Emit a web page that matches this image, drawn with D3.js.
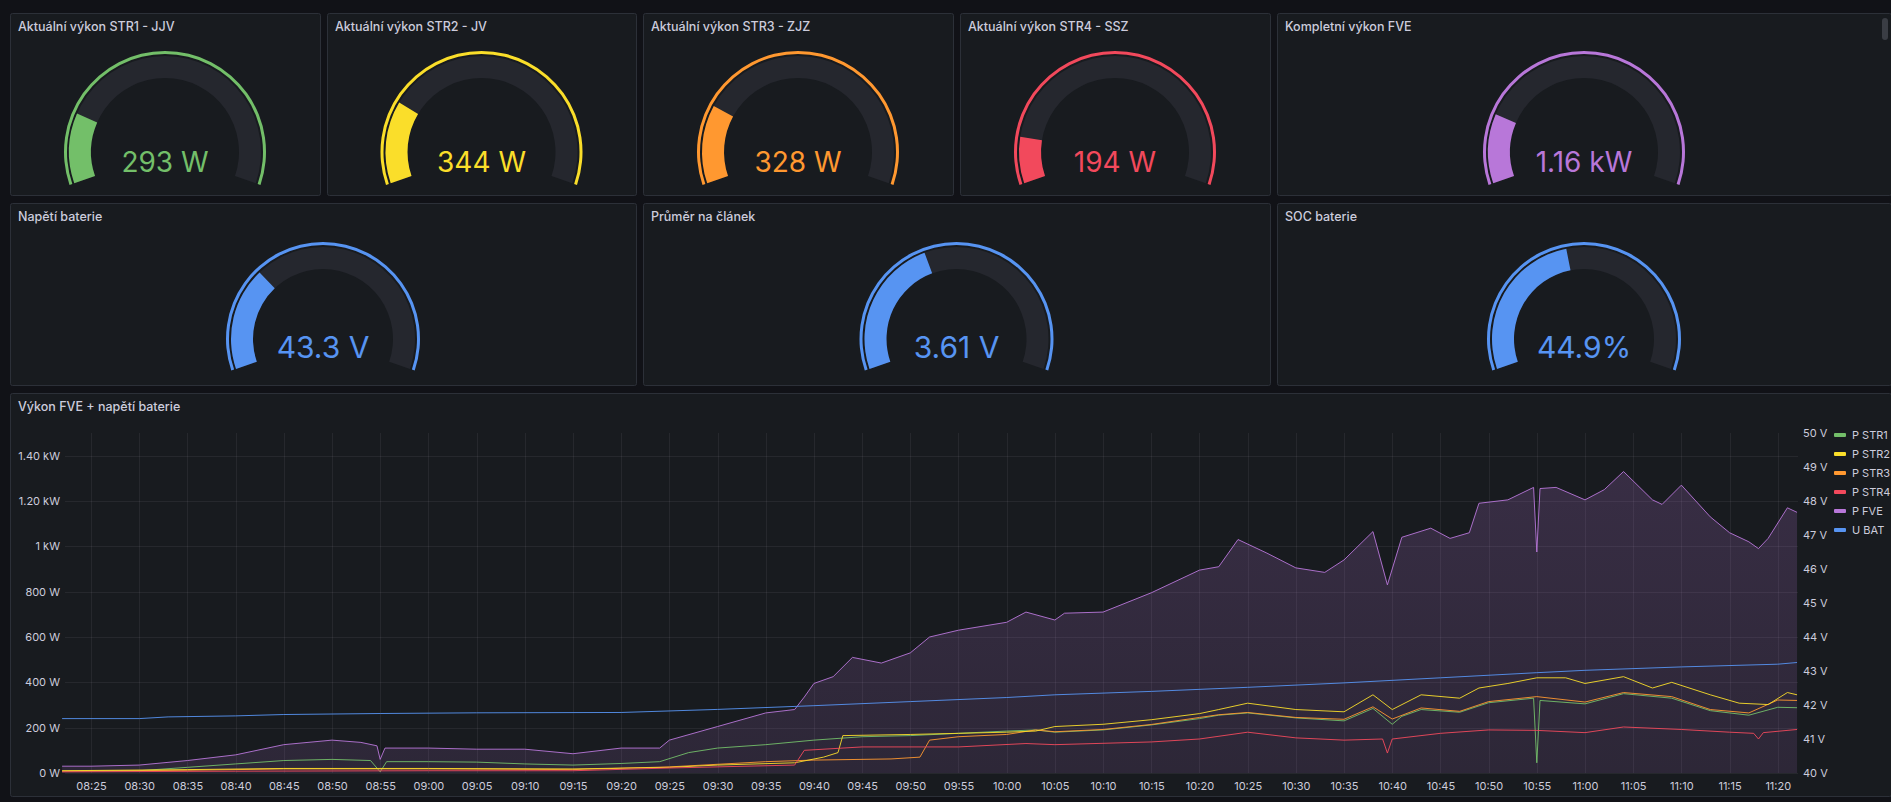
<!DOCTYPE html>
<html>
<head>
<meta charset="utf-8">
<script src="https://cdn.jsdelivr.net/npm/d3@7/dist/d3.min.js"></script>
<style>
  html, body { margin: 0; padding: 0; background: #111217; }
  svg { display: block; font-family: Inter, "Noto Sans", sans-serif; }
</style>
</head>
<body>
<svg id="dash" width="1891" height="802"></svg>
<script>
// --- Gauge data ---
const gaugeTitles = ['Aktuální výkon STR1 - JJV', 'Aktuální výkon STR2 - JV', 'Aktuální výkon STR3 - ZJZ',
  'Aktuální výkon STR4 - SSZ', 'Kompletní výkon FVE', 'Napětí baterie', 'Průměr na článek', 'SOC baterie'];
const gaugeValues = [293, 344, 328, 194, 1160, 43.3, 3.61, 44.9];
const gaugeLabels = ['293 W', '344 W', '328 W', '194 W', '1.16 kW', '43.3 V', '3.61 V', '44.9%'];
const gaugeMin = [0, 0, 0, 0, 0, 40, 3.0, 0];
const gaugeMax = [1500, 1500, 1500, 1500, 6000, 51, 4.5, 100];
const gaugeColors = ['#73BF69', '#FADE2A', '#FF9830', '#F2495C', '#B877D9', '#5794F2', '#5794F2', '#5794F2'];

// --- Time series data [time, value] ---
const pStr1 = [["08:22",8],["08:30",10],["08:35",25],["08:40",40],["08:45",55],["08:50",60],["08:54",55],["08:55",5],["08:55:40",50],["09:00",50],["09:05",48],["09:10",40],["09:15",35],["09:20",42],["09:24",50],["09:27",90],["09:30",110],["09:35",125],["09:40",145],["09:45",160],["09:50",165],["09:55",175],["10:00",185],["10:03",190],["10:05",180],["10:10",190],["10:15",212],["10:20",240],["10:22",255],["10:25",265],["10:30",243],["10:35",230],["10:38",285],["10:40",215],["10:41",250],["10:43",280],["10:47",268],["10:50",310],["10:54:40",330],["10:55",45],["10:55:20",320],["11:00",305],["11:04",350],["11:09",330],["11:13",275],["11:17",255],["11:20",290],["11:22",288]];
const pStr2 = [["08:22",10],["08:35",15],["08:45",20],["09:00",20],["09:15",18],["09:25",25],["09:30",35],["09:38",45],["09:41",70],["09:42:30",90],["09:43",165],["09:50",170],["09:55",175],["10:00",180],["10:03",185],["10:05",205],["10:10",215],["10:15",235],["10:20",262],["10:22",280],["10:25",308],["10:30",280],["10:35",270],["10:38",345],["10:40",280],["10:43",345],["10:47",330],["10:49",375],["10:52",395],["10:55",420],["10:58",420],["11:00",395],["11:04",425],["11:07",375],["11:09",400],["11:13",345],["11:16",308],["11:19",302],["11:21",355],["11:22",345]];
const pStr3 = [["08:22",8],["08:35",12],["08:45",18],["09:00",18],["09:15",15],["09:25",27],["09:35",50],["09:40",57],["09:48",62],["09:51",70],["09:52",145],["09:55",160],["10:00",170],["10:03",190],["10:05",182],["10:10",192],["10:15",214],["10:20",245],["10:22",257],["10:25",267],["10:30",245],["10:35",237],["10:38",292],["10:40",238],["10:43",287],["10:47",272],["10:50",315],["10:55",337],["11:00",313],["11:04",355],["11:09",337],["11:13",280],["11:17",265],["11:20",322],["11:22",320]];
const pStr4 = [["08:22",5],["08:40",8],["09:00",10],["09:15",10],["09:25",22],["09:38",35],["09:39",100],["09:45",115],["09:55",115],["10:02",130],["10:05",125],["10:15",137],["10:20",150],["10:25",180],["10:30",155],["10:35",145],["10:39",150],["10:39:30",88],["10:40",150],["10:45",175],["10:50",190],["10:55",188],["11:00",178],["11:04",203],["11:10",192],["11:15",180],["11:17:30",175],["11:18",150],["11:18:30",178],["11:22",192]];
const pFve = [["08:22",30],["08:25",30],["08:30",35],["08:35",55],["08:40",80],["08:45",125],["08:50",145],["08:53",135],["08:54:40",120],["08:55",60],["08:55:30",110],["09:00",110],["09:05",105],["09:10",105],["09:15",85],["09:20",110],["09:24",110],["09:25",145],["09:30",205],["09:35",265],["09:38",280],["09:39",335],["09:40",395],["09:42",425],["09:44",510],["09:47",485],["09:50",530],["09:52",600],["09:55",630],["10:00",665],["10:02",710],["10:05",675],["10:06",705],["10:10",710],["10:15",795],["10:20",895],["10:22",910],["10:24",1030],["10:27",970],["10:30",905],["10:33",885],["10:35",940],["10:38",1065],["10:39:30",830],["10:41",1040],["10:44",1080],["10:46",1035],["10:48",1060],["10:49",1190],["10:52",1205],["10:54:40",1260],["10:55",975],["10:55:20",1255],["10:57",1260],["11:00",1205],["11:02",1250],["11:04",1330],["11:07",1205],["11:08",1185],["11:10",1270],["11:13",1130],["11:15",1060],["11:17",1020],["11:18",990],["11:19",1035],["11:21",1170],["11:22",1150]];
const uBat = [["08:22",41.6],["08:30",41.6],["08:33",41.65],["08:40",41.68],["08:45",41.72],["08:55",41.75],["09:05",41.77],["09:20",41.78],["09:30",41.87],["09:40",41.98],["09:50",42.1],["10:00",42.22],["10:05",42.3],["10:15",42.4],["10:25",42.52],["10:35",42.65],["10:45",42.8],["10:55",42.95],["11:00",43.02],["11:10",43.12],["11:20",43.2],["11:22",43.25]];

const powerTicks = [0, 200, 400, 600, 800, 1000, 1200, 1400];
const powerTickLabels = ['0 W', '200 W', '400 W', '600 W', '800 W', '1 kW', '1.20 kW', '1.40 kW'];
const voltTicks = [40, 41, 42, 43, 44, 45, 46, 47, 48, 49, 50];

const series = [
  { name: 'P STR1', data: pStr1, color: '#73BF69', axis: 'p' },
  { name: 'P STR2', data: pStr2, color: '#FADE2A', axis: 'p' },
  { name: 'P STR3', data: pStr3, color: '#FF9830', axis: 'p' },
  { name: 'P STR4', data: pStr4, color: '#F2495C', axis: 'p' },
  { name: 'P FVE', data: pFve, color: '#B877D9', axis: 'p', fill: true },
  { name: 'U BAT', data: uBat, color: '#5794F2', axis: 'v' }
];

const svg = d3.select('#dash');
const textCol = '#ccccdc';

// --- Panels ---
function panel(x, y, w, h, title) {
  svg.append('rect').attr('x', x + 0.5).attr('y', y + 0.5).attr('width', w).attr('height', h)
    .attr('rx', 2).attr('fill', '#181b1f').attr('stroke', '#2c3038');
  svg.append('text').attr('x', x + 8).attr('y', y + 18).attr('fill', textCol)
    .attr('font-size', 12.5).attr('font-weight', 500).text(title);
}

const gaugePanels = [
  [10, 13, 310, 182], [327, 13, 309, 182], [643, 13, 310, 182], [960, 13, 310, 182], [1277, 13, 614, 182],
  [10, 203, 626, 182], [643, 203, 627, 182], [1277, 203, 614, 182]
];

const deg = Math.PI / 180;
const a0 = -109 * deg, a1 = 109 * deg;

gaugePanels.forEach((p, i) => {
  panel(p[0], p[1], p[2], p[3], gaugeTitles[i]);
  const row2 = i >= 5;
  const R = row2 ? 97 : 101;
  const cx = p[0] + p[2] / 2;
  const cy = p[1] + (row2 ? 136 : 139);
  const g = svg.append('g').attr('transform', `translate(${cx},${cy})`);
  const scale = d3.scaleLinear().domain([gaugeMin[i], gaugeMax[i]]).range([a0, a1]).clamp(true);
  const inner = R - 27, outer = R - 5;
  g.append('path').attr('fill', '#25272e')
    .attr('d', d3.arc()({ innerRadius: inner, outerRadius: outer, startAngle: a0, endAngle: a1 }));
  g.append('path').attr('fill', gaugeColors[i])
    .attr('d', d3.arc()({ innerRadius: inner, outerRadius: outer, startAngle: a0, endAngle: scale(gaugeValues[i]) }));
  g.append('path').attr('fill', gaugeColors[i])
    .attr('d', d3.arc()({ innerRadius: R - 3, outerRadius: R, startAngle: a0, endAngle: a1 }));
  g.append('text').attr('x', 0).attr('y', row2 ? 19 : 20).attr('text-anchor', 'middle')
    .attr('fill', gaugeColors[i]).attr('font-size', row2 ? 30 : 28).text(gaugeLabels[i]);
});

// scrollbar hint
svg.append('rect').attr('x', 1882).attr('y', 18).attr('width', 6).attr('height', 22).attr('rx', 3).attr('fill', '#3a3d44');

// --- Time series panel ---
panel(10, 393, 1881, 403, 'Výkon FVE + napětí baterie');

const parse = d3.timeParse('%H:%M:%S');
const toDate = t => parse(t.length === 5 ? t + ':00' : t);

const x = d3.scaleTime().domain([toDate('08:22:18'), toDate('11:22:06')]).range([65, 1798]);
const yP = d3.scaleLinear().domain([0, 1500]).range([773, 433]);
const yV = d3.scaleLinear().domain([40, 50]).range([773, 433]);

const grid = svg.append('g').attr('stroke', 'rgba(204,204,220,0.08)').attr('stroke-width', 1);
powerTicks.forEach(v => {
  grid.append('line').attr('x1', 65).attr('x2', 1798).attr('y1', Math.round(yP(v)) + 0.5).attr('y2', Math.round(yP(v)) + 0.5);
});
const xTicks = x.ticks(d3.timeMinute.every(5));
xTicks.forEach(t => {
  grid.append('line').attr('x1', Math.round(x(t)) + 0.5).attr('x2', Math.round(x(t)) + 0.5).attr('y1', 433).attr('y2', 773);
});

const xAxis = svg.append('g').attr('transform', 'translate(0,773)')
  .call(d3.axisBottom(x).ticks(d3.timeMinute.every(5)).tickFormat(d3.timeFormat('%H:%M')).tickSize(0).tickPadding(9));
const yAxisL = svg.append('g').attr('transform', 'translate(60,0)')
  .call(d3.axisLeft(yP).tickValues(powerTicks).tickFormat((d, i) => powerTickLabels[i]).tickSize(0).tickPadding(0));
const yAxisR = svg.append('g').attr('transform', 'translate(1803,0)')
  .call(d3.axisRight(yV).tickValues(voltTicks).tickFormat(d => d + ' V').tickSize(0).tickPadding(0));
[xAxis, yAxisL, yAxisR].forEach(a => {
  a.select('.domain').remove();
  a.selectAll('text').attr('fill', textCol).attr('font-size', 11).attr('font-family', 'Inter, sans-serif');
});

// gradient for FVE fill
const defs = svg.append('defs');
const grad = defs.append('linearGradient').attr('id', 'fveFill').attr('x1', 0).attr('x2', 0).attr('y1', 0).attr('y2', 1);
grad.append('stop').attr('offset', '0%').attr('stop-color', '#B877D9').attr('stop-opacity', 0.2);
grad.append('stop').attr('offset', '100%').attr('stop-color', '#B877D9').attr('stop-opacity', 0.13);

const plot = svg.append('g');
series.slice().reverse().forEach(s => {
  const yS = s.axis === 'v' ? yV : yP;
  if (s.fill) {
    plot.append('path').datum(s.data).attr('fill', 'url(#fveFill)')
      .attr('d', d3.area().x(d => x(toDate(d[0]))).y0(yP(0)).y1(d => yS(d[1])));
  }
});
// draw lines in legend order reversed so STR lines sit on top of fill
[4, 5, 0, 2, 1, 3].forEach(k => {
  const s = series[k];
  const yS = s.axis === 'v' ? yV : yP;
  plot.append('path').datum(s.data).attr('fill', 'none').attr('stroke', s.color)
    .attr('stroke-width', 1).attr('stroke-linejoin', 'round').attr('opacity', 0.9)
    .attr('d', d3.line().x(d => x(toDate(d[0]))).y(d => yS(d[1])));
});

// legend
const legend = svg.append('g').attr('transform', 'translate(1834,435)');
series.forEach((s, i) => {
  const row = legend.append('g').attr('transform', `translate(0,${i * 19})`);
  row.append('rect').attr('x', 0).attr('y', -2).attr('width', 12).attr('height', 4).attr('rx', 1).attr('fill', s.color);
  row.append('text').attr('x', 18).attr('y', 4).attr('fill', textCol).attr('font-size', 11).text(s.name);
});
</script>
</body>
</html>
